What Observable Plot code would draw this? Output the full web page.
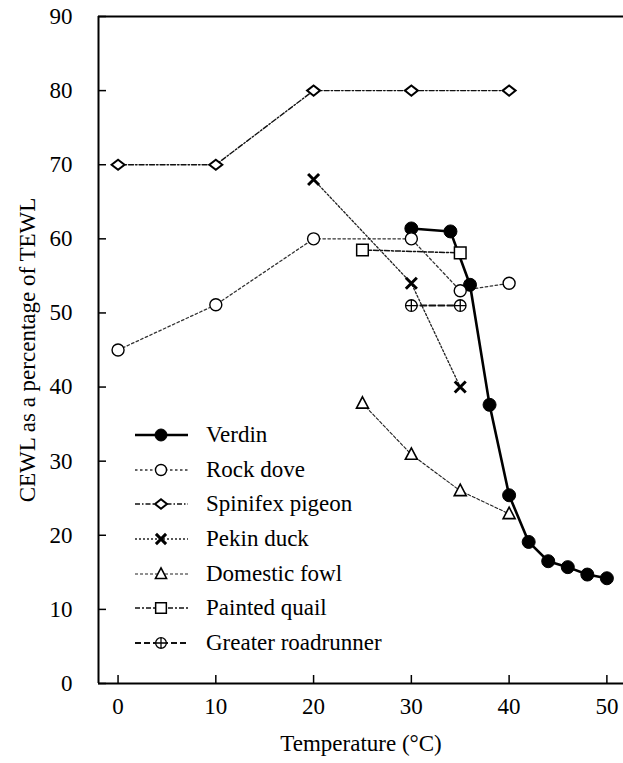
<!DOCTYPE html>
<html><head><meta charset="utf-8">
<script src="https://cdn.jsdelivr.net/npm/d3@7"></script>
<script src="https://cdn.jsdelivr.net/npm/@observablehq/plot@0.6"></script>
<style>
body{margin:0;background:#fff;font-family:'Liberation Serif', serif;}
#wrap{position:relative;width:623px;height:763px;overflow:hidden;}
#legend{position:absolute;left:133px;top:418px;font-size:23px;color:#000;font-family:'Liberation Serif', serif;z-index:2;}
.row{display:flex;align-items:center;height:34.6px;}
.sw{flex:none;width:57px;height:20px;margin-right:16px;}
.sw svg{display:block;}
</style></head><body>
<div id="wrap">
<div id="legend">
<div class="row"><span class="sw"></span><span style="font-family:'Liberation Serif', serif">Verdin</span></div>
<div class="row"><span class="sw"></span><span style="font-family:'Liberation Serif', serif">Rock dove</span></div>
<div class="row"><span class="sw"></span><span style="font-family:'Liberation Serif', serif">Spinifex pigeon</span></div>
<div class="row"><span class="sw"></span><span style="font-family:'Liberation Serif', serif">Pekin duck</span></div>
<div class="row"><span class="sw"></span><span style="font-family:'Liberation Serif', serif">Domestic fowl</span></div>
<div class="row"><span class="sw"></span><span style="font-family:'Liberation Serif', serif">Painted quail</span></div>
<div class="row"><span class="sw"></span><span style="font-family:'Liberation Serif', serif">Greater roadrunner</span></div>
</div>
</div>
<script>
// ---- data ----
const seriesNames = ["Verdin","Rock dove","Spinifex pigeon","Pekin duck","Domestic fowl","Painted quail","Greater roadrunner"];
const verdinT = [30,34,36,38,40,42,44,46,48,50];
const verdinV = [61.4,61.0,53.8,37.6,25.4,19.1,16.5,15.7,14.7,14.2];
const rockDoveT = [0,10,20,30,35,40];
const rockDoveV = [45.0,51.1,60.0,60.0,53.0,54.0];
const spinifexT = [0,10,20,30,40];
const spinifexV = [70,70,80,80,80];
const pekinT = [20,30,35];
const pekinV = [68,54,40];
const fowlT = [25,30,35,40];
const fowlV = [37.8,30.9,26.0,22.9];
const quailT = [25,35];
const quailV = [58.5,58.1];
const roadrunnerT = [30,35];
const roadrunnerV = [51,51];
const xTicks = [0,10,20,30,40,50];
const yTicks = [0,10,20,30,40,50,60,70,80,90];
const xDomain = [-2, 51.7];
const yDomain = [0, 90];

const FONT = "'Liberation Serif', serif";

const seriesT = [verdinT, rockDoveT, spinifexT, pekinT, fowlT, quailT, roadrunnerT];
const seriesV = [verdinV, rockDoveV, spinifexV, pekinV, fowlV, quailV, roadrunnerV];
const rows = [];
seriesNames.forEach((name, s) => seriesT[s].forEach((t, i) => rows.push({series: name, t, v: seriesV[s][i]})));

// ---- symbols ----
const rad = size => Math.sqrt(size / Math.PI);
const symCircle = {draw(c, size){const r = rad(size); c.moveTo(r,0); c.arc(0,0,r,0,2*Math.PI); c.closePath();}};
const symDiamond = {draw(c, size){const r = rad(size), h = r*0.78; c.moveTo(-r,0); c.lineTo(0,-h); c.lineTo(r,0); c.lineTo(0,h); c.closePath();}};
const symTimes = {draw(c, size){const r = rad(size); c.moveTo(-r,-r); c.lineTo(r,r); c.moveTo(-r,r); c.lineTo(r,-r);}};
const symTriangle = {draw(c, size){const r = rad(size); c.moveTo(0,-r*1.1); c.lineTo(r,r*0.8); c.lineTo(-r,r*0.8); c.closePath();}};
const symSquare = {draw(c, size){const r = rad(size); c.moveTo(-r,-r); c.lineTo(r,-r); c.lineTo(r,r); c.lineTo(-r,r); c.closePath();}};
const symCirclePlus = {draw(c, size){const r = rad(size); c.moveTo(r,0); c.arc(0,0,r,0,2*Math.PI); c.closePath(); c.moveTo(-r,0); c.lineTo(r,0); c.moveTo(0,-r); c.lineTo(0,r);}};

const styles = {
  "Verdin":            {stroke:"#000", sw:2.6, dash:null,        sym:symCircle,     fill:"#000", r:6.5, dsw:1},
  "Rock dove":         {stroke:"#333", sw:1.3, dash:"2.5,2.5",   sym:symCircle,     fill:"#fff", r:6,   dsw:1.4},
  "Spinifex pigeon":   {stroke:"#111", sw:1.4, dash:"5,2,1.5,2", sym:symDiamond,    fill:"#fff", r:6.5, dsw:2},
  "Pekin duck":        {stroke:"#222", sw:1.3, dash:"2,2",       sym:symTimes,      fill:"none", r:5.5, dsw:3},
  "Domestic fowl":     {stroke:"#222", sw:1.1, dash:"3,2",       sym:symTriangle,   fill:"#fff", r:6,   dsw:1.6},
  "Painted quail":     {stroke:"#111", sw:1.5, dash:"5,2,2,2",   sym:symSquare,     fill:"#fff", r:5.8, dsw:1.5},
  "Greater roadrunner":{stroke:"#111", sw:2,   dash:"6,3",       sym:symCirclePlus, fill:"#fff", r:5.8, dsw:1.3}
};

function buildChart() {
  const marks = [
    Plot.ruleY([yDomain[1]], {stroke:"#000", strokeWidth:2}),
    Plot.ruleY([yDomain[0]], {stroke:"#000", strokeWidth:2}),
    Plot.ruleX([xDomain[0]], {stroke:"#000", strokeWidth:2}),
    Plot.axisX(xTicks, {anchor:"bottom", tickSize:-8, tickPadding:22, strokeWidth:1.5, fontFamily: FONT,
      label:"Temperature (°C)", labelAnchor:"center", labelOffset:67, labelArrow:"none"}),
    Plot.axisY(yTicks, {anchor:"left", tickSize:-8, tickPadding:34, strokeWidth:1.5, fontFamily: FONT,
      label:"CEWL as a percentage of TEWL", labelAnchor:"center", labelOffset:80, labelArrow:"none"})
  ];
  for (const name of seriesNames) {
    const st = styles[name];
    const data = rows.filter(d => d.series === name);
    marks.push(Plot.line(data, {x:"t", y:"v", stroke:st.stroke, strokeWidth:st.sw, strokeDasharray:st.dash}));
  }
  for (const name of seriesNames) {
    const st = styles[name];
    const data = rows.filter(d => d.series === name);
    marks.push(Plot.dot(data, {x:"t", y:"v", symbol:st.sym, r:st.r, fill:st.fill, stroke:"#000", strokeWidth:st.dsw}));
  }
  const chart = Plot.plot({
    width: 623, height: 763,
    marginLeft: 98, marginRight: 0, marginTop: 16, marginBottom: 80,
    style: {fontSize:"23px", fontFamily: FONT, color:"#000", background:"#fff"},
    x: {domain: xDomain},
    y: {domain: yDomain},
    marks
  });
  chart.setAttribute("font-family", FONT);
  chart.querySelectorAll("text").forEach(t => t.style.fontFamily = FONT);
  chart.id = "chart";
  return chart;
}

const wrap = document.getElementById("wrap");
wrap.insertBefore(buildChart(), wrap.firstChild);

// ---- legend swatches ----
document.querySelectorAll("#legend .sw").forEach((holder, i) => {
  const st = styles[seriesNames[i]];
  const svg = d3.create("svg").attr("width", 57).attr("height", 20);
  svg.append("line").attr("x1", 2).attr("x2", 55).attr("y1", 10).attr("y2", 10)
    .attr("stroke", st.stroke).attr("stroke-width", st.sw).attr("stroke-dasharray", st.dash);
  svg.append("path").attr("transform", "translate(28,10)")
    .attr("d", d3.symbol(st.sym, Math.PI * st.r * st.r * 0.85)())
    .attr("fill", st.fill).attr("stroke", "#000").attr("stroke-width", st.dsw);
  holder.appendChild(svg.node());
});

// re-render once fonts are ready, in case the serif face loaded late
if (document.fonts && document.fonts.ready) {
  document.fonts.ready.then(() => {
    const old = document.getElementById("chart");
    const fresh = buildChart();
    old.replaceWith(fresh);
  });
}
</script></body></html>
